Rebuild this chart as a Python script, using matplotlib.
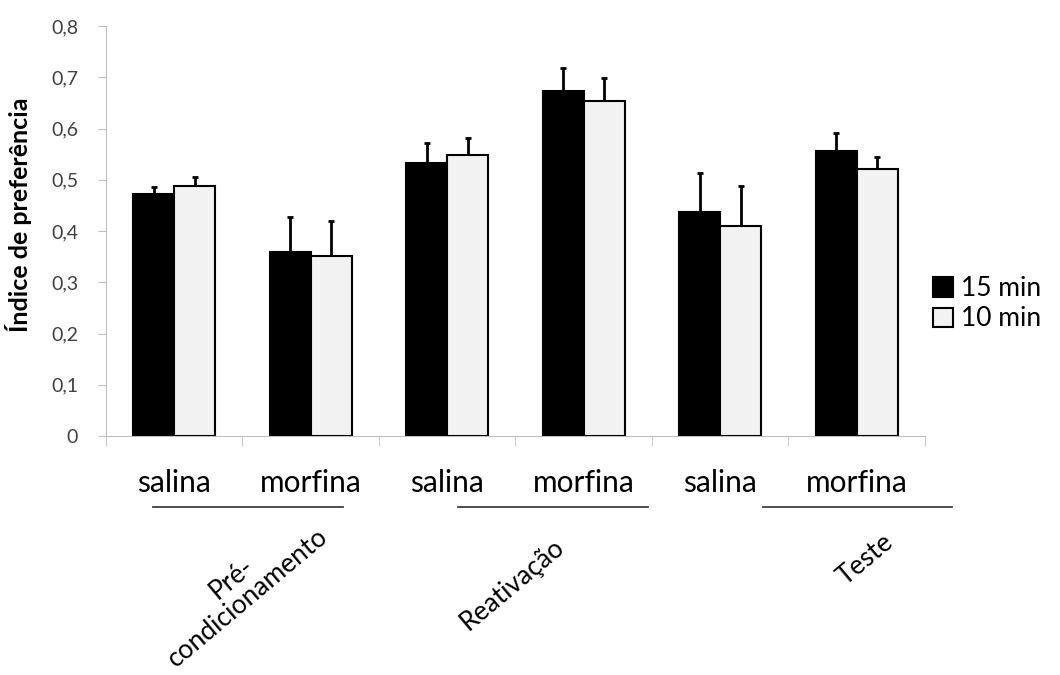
import numpy as np
import matplotlib.pyplot as plt
from matplotlib.patches import Patch

plt.rcParams['font.family'] = ['Lato', 'DejaVu Sans']

# Dados: índice de preferência por tratamento e fase
tratamentos = ["salina", "morfina", "salina", "morfina", "salina", "morfina"]
fases = ["Pré-\ncondicionamento", "Reativação", "Teste"]
media_15 = [0.473, 0.359, 0.533, 0.673, 0.437, 0.557]
erro_15 = [0.012, 0.068, 0.038, 0.046, 0.076, 0.035]
media_10 = [0.487, 0.351, 0.548, 0.654, 0.410, 0.521]
erro_10 = [0.018, 0.068, 0.033, 0.044, 0.078, 0.024]

cinza = "#bfbfbf"
fig = plt.figure(figsize=(10.6, 6.75), dpi=100)
ax = fig.add_axes([0.1, 0.354, 0.7726, 0.6075])

x = np.arange(len(tratamentos))
w = 0.3
zeros = np.zeros(len(x))
ax.bar(x - w / 2, media_15, w, color="black", edgecolor="black", linewidth=1.5, zorder=3)
ax.bar(x + w / 2, media_10, w, color="#f2f2f2", edgecolor="black", linewidth=1.5, zorder=3)
# barras de erro só para cima (ficam atrás das barras)
ax.errorbar(x - w / 2, media_15, yerr=[zeros, erro_15], fmt="none", ecolor="black",
            elinewidth=2, capsize=2, capthick=2, zorder=2)
ax.errorbar(x + w / 2, media_10, yerr=[zeros, erro_10], fmt="none", ecolor="black",
            elinewidth=2, capsize=2, capthick=2, zorder=2)

ax.set_xlim(-0.5, len(x) - 0.5)
ax.set_ylim(0, 0.8)
yt = np.arange(0, 0.81, 0.1)
ax.set_yticks(yt)
ax.set_yticklabels(["0" if v == 0 else f"{v:.1f}".replace(".", ",") for v in yt],
                   fontsize=14, color="#404040")
ax.set_xticks(x)
ax.set_xticklabels(tratamentos, fontsize=21.5)
ax.set_xticks(np.arange(-0.5, len(x)), minor=True)
ax.tick_params(axis="x", which="major", length=0, pad=24)
ax.tick_params(axis="x", which="minor", length=7, color=cinza)
ax.tick_params(axis="y", length=6, color=cinza, pad=14)

for s in ["top", "right"]:
    ax.spines[s].set_visible(False)
for s in ["left", "bottom"]:
    ax.spines[s].set_color(cinza)

ax.set_ylabel("Índice de preferência", fontsize=18, fontweight="bold")
ax.yaxis.set_label_coords(-0.09, 0.54)

# linhas que agrupam cada fase e os nomes das fases
inicio_linha = [-0.156, 2.08, 4.31]
for x0 in inicio_linha:
    ax.plot([x0, x0 + 1.39], [-0.139, -0.139], color="#404040", linewidth=1.3, clip_on=False)

pos_fases = [(240, 588), (512, 585), (866, 560)]
for fase, (px, py) in zip(fases, pos_fases):
    fig.text(px / 1060, 1 - py / 675, fase, fontsize=19, rotation=40, ha="center", va="center",
             linespacing=1.0)

handles = [Patch(facecolor="black", edgecolor="black", linewidth=1.5),
           Patch(facecolor="#f2f2f2", edgecolor="black", linewidth=1.5)]
fig.legend(handles, ["15 min", "10 min"], loc="center left", bbox_to_anchor=(0.868, 0.55),
           frameon=False, fontsize=19, handlelength=0.75, handleheight=0.75, handletextpad=0.3,
           labelspacing=0.2, borderpad=0)

fig.savefig("out.png", dpi=100)
